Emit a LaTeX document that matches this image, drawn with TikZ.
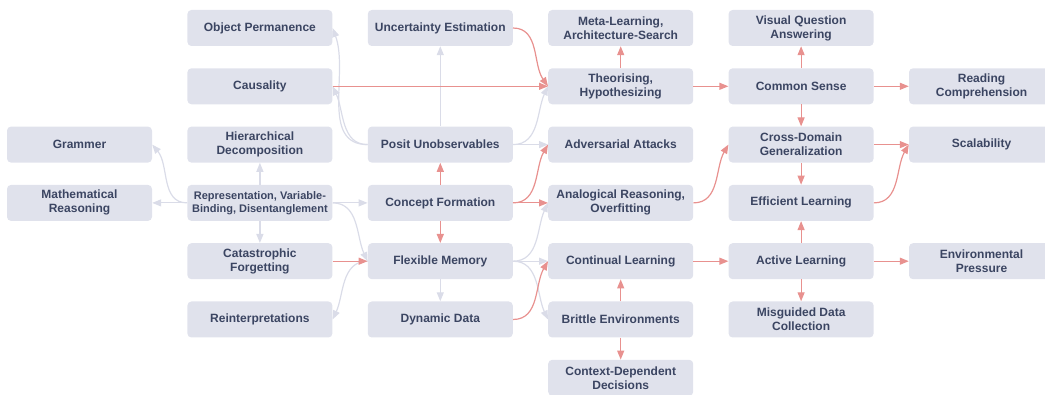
\documentclass[tikz,border=0pt]{standalone}
\usepackage{fontspec}
\setmainfont{Liberation Sans}
\usepackage{xcolor}
\usetikzlibrary{arrows.meta,positioning}
\definecolor{boxfill}{HTML}{E0E2EC}
\definecolor{boxtext}{HTML}{3B4562}
\definecolor{linkred}{HTML}{E8918F}
\definecolor{linkgray}{HTML}{DADCE8}
\tikzset{
  skill/.style={fill=boxfill,rounded corners=4pt,align=center,minimum width=145pt,minimum height=36pt,inner sep=0pt,text=boxtext,font=\bfseries\fontsize{12}{14}\selectfont},
  redlink/.style={-{Triangle[length=9pt,width=7pt]},line width=1.2pt,draw=linkred},
  graylink/.style={-{Triangle[length=9pt,width=7pt]},line width=1.2pt,draw=linkgray}
}

\begin{document}
\begin{tikzpicture}[x=1pt,y=1pt]
  \useasboundingbox (0,0) rectangle (1045,394);

  % column 0
  \node (grammer) [skill] at (79.5,249.4) {Grammer};
  \node (mathreason) [skill] at (79.5,191.1) {Mathematical\\Reasoning};
  % column 1
  \node (objperm) [skill] at (259.9,366) {Object Permanence};
  \node (causality) [skill] at (259.9,307.7) {Causality};
  \node (hierdecomp) [skill] at (259.9,249.4) {Hierarchical\\Decomposition};
  \node (repr) [skill,font=\bfseries\fontsize{11}{13}\selectfont] at (259.9,191.1) {Representation, Variable-\\Binding, Disentanglement};
  \node (catforget) [skill] at (259.9,132.8) {Catastrophic\\Forgetting};
  \node (reinterp) [skill] at (259.9,74.5) {Reinterpretations};
  % column 2
  \node (uncert) [skill] at (440.3,366) {Uncertainty Estimation};
  \node (posit) [skill] at (440.3,249.4) {Posit Unobservables};
  \node (concept) [skill] at (440.3,191.1) {Concept Formation};
  \node (flexmem) [skill] at (440.3,132.8) {Flexible Memory};
  \node (dyndata) [skill] at (440.3,74.5) {Dynamic Data};
  % column 3
  \node (metalearn) [skill] at (620.7,366) {Meta-Learning,\\Architecture-Search};
  \node (theorising) [skill] at (620.7,307.7) {Theorising,\\Hypothesizing};
  \node (adversarial) [skill] at (620.7,249.4) {Adversarial Attacks};
  \node (analogical) [skill] at (620.7,191.1) {Analogical Reasoning,\\Overfitting};
  \node (continual) [skill] at (620.7,132.8) {Continual Learning};
  \node (brittle) [skill] at (620.7,74.5) {Brittle Environments};
  \node (contextdep) [skill] at (620.7,16.2) {Context-Dependent\\Decisions};
  % column 4
  \node (vqa) [skill] at (801.1,366) {Visual Question\\Answering};
  \node (commonsense) [skill] at (801.1,307.7) {Common Sense};
  \node (crossdomain) [skill] at (801.1,249.4) {Cross-Domain\\Generalization};
  \node (efficient) [skill] at (801.1,191.1) {Efficient Learning};
  \node (active) [skill] at (801.1,132.8) {Active Learning};
  \node (misguided) [skill] at (801.1,74.5) {Misguided Data\\Collection};
  % column 5
  \node (reading) [skill] at (981.5,307.7) {Reading\\Comprehension};
  \node (scalability) [skill] at (981.5,249.4) {Scalability};
  \node (envpressure) [skill] at (981.5,132.8) {Environmental\\Pressure};

  % gray links
  \draw[graylink] (repr.west) to[out=180,in=-50] (grammer.east);
  \draw[graylink] (repr) -- (mathreason);
  \draw[graylink] (repr) -- (hierdecomp);
  \draw[graylink] (repr) -- (catforget);
  \draw[graylink] (repr) -- (concept);
  \draw[graylink] (repr.east) to[out=0,in=115] (flexmem.west);
  \draw[graylink] (flexmem.west) to[out=180,in=65] (reinterp.east);
  \draw[graylink] (posit.west) to[out=180,in=-70] (objperm.east);
  \draw[graylink] (posit.west) to[out=180,in=-65] (causality.east);
  \draw[graylink] (posit) -- (uncert);
  \draw[graylink] (posit.east) to[out=0,in=-115] (theorising.west);
  \draw[graylink] (posit) -- (adversarial);
  \draw[graylink] (flexmem.east) to[out=0,in=-115] (analogical.west);
  \draw[graylink] (flexmem) -- (continual);
  \draw[graylink] (flexmem.east) to[out=0,in=115] (brittle.west);
  \draw[graylink] (flexmem) -- (dyndata);

  % red links
  \draw[redlink] (causality) -- (theorising);
  \draw[redlink] (uncert.east) to[out=0,in=125] (theorising.west);
  \draw[redlink] (theorising) -- (metalearn);
  \draw[redlink] (theorising) -- (commonsense);
  \draw[redlink] (concept) -- (posit);
  \draw[redlink] (concept.east) to[out=0,in=-120] (adversarial.west);
  \draw[redlink] (concept) -- (analogical);
  \draw[redlink] (concept) -- (flexmem);
  \draw[redlink] (catforget) -- (flexmem);
  \draw[redlink] (dyndata.east) to[out=0,in=-120] (continual.west);
  \draw[redlink] (brittle) -- (continual);
  \draw[redlink] (brittle) -- (contextdep);
  \draw[redlink] (continual) -- (active);
  \draw[redlink] (analogical.east) to[out=0,in=-120] (crossdomain.west);
  \draw[redlink] (commonsense) -- (vqa);
  \draw[redlink] (commonsense) -- (reading);
  \draw[redlink] (commonsense) -- (crossdomain);
  \draw[redlink] (crossdomain) -- (efficient);
  \draw[redlink] (crossdomain) -- (scalability);
  \draw[redlink] (efficient.east) to[out=0,in=-120] (scalability.west);
  \draw[redlink] (active) -- (efficient);
  \draw[redlink] (active) -- (misguided);
  \draw[redlink] (active) -- (envpressure);
\end{tikzpicture}
\end{document}
